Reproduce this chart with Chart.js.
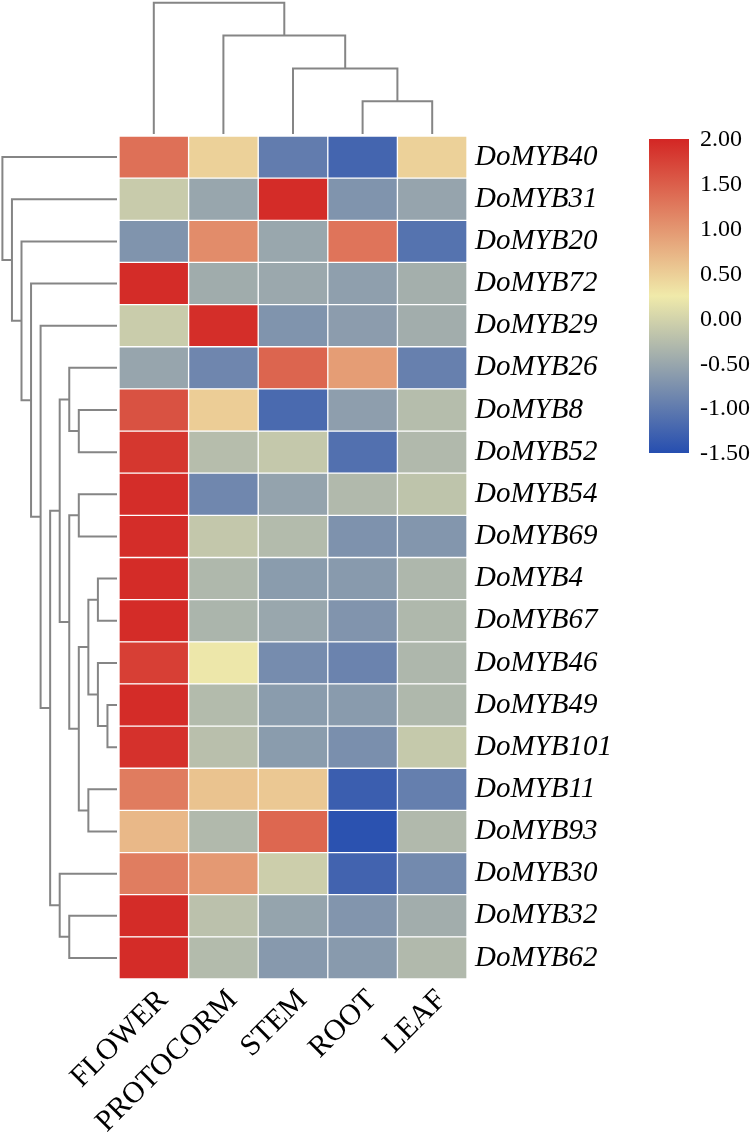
<!DOCTYPE html>
<html>
<head>
<meta charset="utf-8">
<script src="https://cdn.jsdelivr.net/npm/chart.js@4.4.0/dist/chart.umd.min.js"></script>
<style>
  html, body { margin: 0; padding: 0; background: #fff; }
  #wrap { width: 752px; height: 1132px; }
</style>
</head>
<body>
<div id="wrap"><canvas id="heat" width="752" height="1132"></canvas></div>
<script>
// --- 1. DATA ---
const genes = ['DoMYB40', 'DoMYB31', 'DoMYB20', 'DoMYB72', 'DoMYB29', 'DoMYB26', 'DoMYB8',
  'DoMYB52', 'DoMYB54', 'DoMYB69', 'DoMYB4', 'DoMYB67', 'DoMYB46', 'DoMYB49', 'DoMYB101',
  'DoMYB11', 'DoMYB93', 'DoMYB30', 'DoMYB32', 'DoMYB62'];
const tissues = ['FLOWER', 'PROTOCORM', 'STEM', 'ROOT', 'LEAF'];

// z-scores, one row per gene, columns in tissue order
const expr = [
  [1.34, 0.47, -0.98, -1.24, 0.47],
  [-0.10, -0.51, 1.95, -0.72, -0.53],
  [-0.72, 1.09, -0.50, 1.30, -1.09],
  [1.95, -0.44, -0.49, -0.59, -0.41],
  [-0.09, 1.93, -0.72, -0.62, -0.43],
  [-0.52, -0.87, 1.44, 0.94, -0.94],
  [1.61, 0.51, -1.19, -0.60, -0.26],
  [1.85, -0.25, -0.13, -1.12, -0.30],
  [1.94, -0.86, -0.55, -0.30, -0.18],
  [1.94, -0.14, -0.28, -0.74, -0.69],
  [1.95, -0.31, -0.63, -0.65, -0.32],
  [1.95, -0.35, -0.50, -0.71, -0.31],
  [1.78, 0.22, -0.81, -0.90, -0.32],
  [1.95, -0.28, -0.63, -0.64, -0.31],
  [1.90, -0.23, -0.63, -0.77, -0.12],
  [1.23, 0.60, 0.55, -1.32, -0.95],
  [0.70, -0.30, 1.42, -1.46, -0.30],
  [1.22, 0.97, -0.06, -1.26, -0.83],
  [1.95, -0.21, -0.54, -0.70, -0.43],
  [1.95, -0.28, -0.66, -0.65, -0.30]
];

const colorbarTicks = [2.00, 1.50, 1.00, 0.50, 0.00, -0.50, -1.00, -1.50];

// dendrograms as merges [childA, childB, level]; ids >= leaf count point at earlier merges
const rowTree = [
  [13, 14, 1], [12, 20, 2], [10, 11, 2], [22, 21, 3], [15, 16, 3],
  [23, 24, 4], [8, 9, 4], [26, 25, 5], [6, 7, 4], [5, 28, 5],
  [29, 27, 6], [18, 19, 5], [17, 31, 6], [30, 32, 7], [4, 33, 8],
  [3, 34, 9], [2, 35, 10], [1, 36, 11], [0, 37, 12]
];
const colTree = [[3, 4, 1], [2, 5, 2], [1, 6, 3], [0, 7, 4]];

// --- 2. COLOUR MAP ---
const colorStops = [[-1.5, [38, 78, 176]], [0.25, [240, 234, 170]], [2.0, [211, 38, 36]]];

function heatColor(v) {
  if (v <= colorStops[0][0]) return `rgb(${colorStops[0][1].join(',')})`;
  for (let i = 1; i < colorStops.length; i++) {
    const [v1, c1] = colorStops[i];
    const [v0, c0] = colorStops[i - 1];
    if (v <= v1) {
      const t = (v - v0) / (v1 - v0);
      const c = c0.map((ch, k) => Math.round(ch + (c1[k] - ch) * t));
      return `rgb(${c.join(',')})`;
    }
  }
  return `rgb(${colorStops[colorStops.length - 1][1].join(',')})`;
}

// --- 3. DENDROGRAMS, LABELS, COLOUR BAR ---
const drawTree = (ctx, merges, nLeaf, leafPos, levelPx, toXY) => {
  const pos = [], lvl = [];
  for (let i = 0; i < nLeaf; i++) { pos[i] = leafPos(i); lvl[i] = 0; }
  merges.forEach(([a, b, level], m) => {
    const id = nLeaf + m;
    pos[id] = (pos[a] + pos[b]) / 2;
    lvl[id] = level;
    const pts = [
      toXY(levelPx(lvl[a]), pos[a]), toXY(levelPx(level), pos[a]),
      toXY(levelPx(level), pos[b]), toXY(levelPx(lvl[b]), pos[b])
    ];
    ctx.beginPath();
    ctx.moveTo(pts[0][0], pts[0][1]);
    pts.slice(1).forEach(p => ctx.lineTo(p[0], p[1]));
    ctx.stroke();
  });
};

const extrasPlugin = {
  id: 'extras',
  afterDraw(chart) {
    const ctx = chart.ctx;
    const area = chart.chartArea;
    const xs = chart.scales.x;
    const ys = chart.scales.y;
    ctx.save();

    // dendrograms
    ctx.strokeStyle = '#858585';
    ctx.lineWidth = 2;
    ctx.lineJoin = 'miter';
    ctx.lineCap = 'butt';
    drawTree(ctx, rowTree, genes.length,
      i => ys.getPixelForValue(i),
      l => area.left - 2 - l * 9.55,
      (a, p) => [a, p]);
    drawTree(ctx, colTree, tissues.length,
      i => xs.getPixelForValue(i + 0.5),
      l => area.top - 2 - l * 32.8,
      (a, p) => [p, a]);

    // column labels, rotated
    ctx.fillStyle = '#000';
    ctx.font = "30px 'Liberation Serif', 'Times New Roman', serif";
    ctx.textAlign = 'right';
    ctx.textBaseline = 'alphabetic';
    tissues.forEach((t, k) => {
      const cx = xs.getPixelForValue(k + 0.5);
      ctx.save();
      ctx.translate(cx + 15, area.bottom + 22);
      ctx.rotate(-Math.PI / 4);
      ctx.fillText(t, 0, 0);
      ctx.restore();
    });

    // colour bar
    const cbLeft = 649, cbTop = 139, cbW = 40, cbH = 314;
    const vMax = colorStops[colorStops.length - 1][0], vMin = colorStops[0][0];
    const grad = ctx.createLinearGradient(0, cbTop, 0, cbTop + cbH);
    colorStops.forEach(([v]) => grad.addColorStop((vMax - v) / (vMax - vMin), heatColor(v)));
    ctx.fillStyle = grad;
    ctx.fillRect(cbLeft, cbTop, cbW, cbH);

    ctx.fillStyle = '#000';
    ctx.font = "24px 'Liberation Serif', 'Times New Roman', serif";
    ctx.textAlign = 'left';
    ctx.textBaseline = 'middle';
    colorbarTicks.forEach(v => {
      const y = cbTop + (vMax - v) / (vMax - vMin) * cbH;
      ctx.fillText(v.toFixed(2), cbLeft + cbW + 11, y + 1);
    });
    ctx.restore();
  }
};

// --- 4. CHART ---
new Chart(document.getElementById('heat').getContext('2d'), {
  type: 'bar',
  data: {
    labels: genes,
    datasets: tissues.map((t, k) => ({
      label: t,
      data: genes.map(() => 1),
      backgroundColor: expr.map(row => heatColor(row[k])),
      borderColor: '#ffffff',
      borderWidth: 1,
      borderSkipped: false,
      categoryPercentage: 1,
      barPercentage: 1
    }))
  },
  options: {
    indexAxis: 'y',
    responsive: false,
    animation: false,
    events: [],
    layout: { padding: { left: 119, top: 136, right: 0, bottom: 153 } },
    plugins: { legend: { display: false }, tooltip: { enabled: false } },
    scales: {
      x: { type: 'linear', stacked: true, min: 0, max: tissues.length, display: false },
      y: {
        stacked: true,
        position: 'right',
        grid: { display: false, drawTicks: false },
        border: { display: false },
        ticks: {
          autoSkip: false,
          padding: 8,
          color: '#000',
          font: { family: "'Liberation Serif', 'Times New Roman', serif", size: 29, style: 'italic' }
        },
        afterFit: s => { s.width = 285; }
      }
    }
  },
  plugins: [extrasPlugin]
});
</script>
</body>
</html>
